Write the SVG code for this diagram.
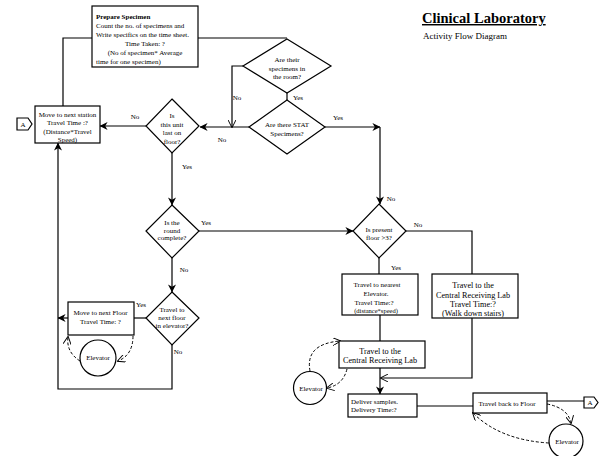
<svg xmlns="http://www.w3.org/2000/svg" width="602" height="456" viewBox="0 0 602 456">
<style>
text{font-family:"Liberation Serif","Times New Roman",serif;fill:#000;font-size:7px}
.c{text-anchor:middle}
.box{fill:#fff;stroke:#000;stroke-width:1.2}
.ln{fill:none;stroke:#000;stroke-width:1.2}
.ds{fill:none;stroke:#000;stroke-width:1;stroke-dasharray:3,2}
.m{font-size:8.2px}
</style>
<defs>
<marker id="arr" viewBox="0 0 10 10" refX="9.5" refY="5" markerWidth="8" markerHeight="8" markerUnits="userSpaceOnUse" orient="auto"><path d="M0,0 L10,5 L0,10 L3,5 Z" fill="#000"/></marker>
<marker id="open" viewBox="0 0 10 10" refX="9" refY="5" markerWidth="8" markerHeight="8" markerUnits="userSpaceOnUse" orient="auto"><path d="M0,0 L10,5 L0,10" fill="none" stroke="#000" stroke-width="1.2"/></marker>
</defs>
<rect width="602" height="456" fill="#fff"/>

<g id="title">
<text x="422" y="23" style="font-size:14.5px;font-weight:bold;text-decoration:underline">Clinical Laboratory</text>
<text x="423" y="38.5" style="font-size:9px">Activity Flow Diagram</text>
</g>

<g id="connectors">
<path class="ln" d="M92,38 H63 V107"/>
<path class="ln" d="M198,38 H287"/>
<path class="ln" d="M243,66 H232 V127" marker-end="url(#open)"/>
<path class="ln" d="M287,93 V100"/>
<path class="ln" d="M249,127 H200" marker-end="url(#arr)"/>
<path class="ln" d="M325,127 H380" marker-end="url(#arr)"/>
<path class="ln" d="M380,127 V204" marker-end="url(#arr)"/>
<path class="ln" d="M146,126 H100" marker-end="url(#arr)"/>
<path class="ln" d="M172,153 V205" marker-end="url(#arr)"/>
<path class="ln" d="M199,231 H353" marker-end="url(#arr)"/>
<path class="ln" d="M172,258 V292" marker-end="url(#arr)"/>
<path class="ln" d="M146,318 H134"/>
<path class="ln" d="M68,318 H58" marker-end="url(#arr)"/>
<path class="ln" d="M172,345 V389 H58 V143" marker-end="url(#arr)"/>
<path class="ln" d="M406,231 H472 V274"/>
<path class="ln" d="M379,258 V274"/>
<path class="ln" d="M380,315 V341"/>
<path class="ln" d="M380,368 V394" marker-end="url(#arr)"/>
<path class="ln" d="M472,318 V378 H381" marker-end="url(#open)"/>
<path class="ln" d="M417,406 H473"/>
<path class="ln" d="M547,401 H584"/>
<path class="ds" d="M133,336 Q133,355 118,361" marker-end="url(#open)"/>
<path class="ds" d="M80,361 Q66,352 68,337" marker-end="url(#open)"/>
<path class="ds" d="M310,371 Q305,344 340,341" marker-end="url(#open)"/>
<path class="ds" d="M347,369 Q343,385 327,388" marker-end="url(#open)"/>
<path class="ds" d="M547,404 Q568,408 571,423" marker-end="url(#open)"/>
<path class="ds" d="M549,443 Q500,440 473,413" marker-end="url(#open)"/>
</g>

<g id="prepare">
<rect class="box" x="92" y="6" width="106" height="61"/>
<text x="96" y="18.5" style="font-weight:bold">Prepare Specimen</text>
<text x="96" y="27.5">Count the no. of specimens and</text>
<text x="96" y="36.5">Write specifics on the time sheet.</text>
<text x="145" y="45.5" class="c">Time Taken: ?</text>
<text x="145" y="54.5" class="c">(No of specimen* Average</text>
<text x="96" y="63.5">time for one specimen)</text>
</g>

<g id="d-room">
<polygon class="box" points="287,39 331,66 287,93 243,66"/>
<text x="287" y="61.5" class="c">Are their</text>
<text x="287" y="70.5" class="c">specimens in</text>
<text x="287" y="79" class="c">the room?</text>
<text x="237" y="99.5" class="c">No</text>
<text x="298" y="99.5" class="c">Yes</text>
</g>

<g id="d-stat">
<polygon class="box" points="287,100 325,127 287,154 249,127"/>
<text x="287" y="126.5" class="c">Are there STAT</text>
<text x="287" y="135.5" class="c">Specimens?</text>
<text x="222" y="141.5" class="c">No</text>
<text x="338" y="119.5" class="c">Yes</text>
<text x="391" y="200.5" class="c">No</text>
</g>

<g id="station">
<rect class="box" x="35" y="106" width="65" height="37"/>
<text x="67.5" y="116.5" class="c">Move to next station</text>
<text x="67.5" y="124.5" class="c">Travel Time :?</text>
<text x="67.5" y="133.5" class="c">(Distance*Travel</text>
<text x="67.5" y="141.5" class="c">Speed)</text>
</g>

<g id="conn-a1">
<polygon class="box" points="17,118 28,118 32,124 28,130 17,130"/>
<text x="23" y="127" class="c">A</text>
</g>

<g id="d-last">
<polygon class="box" points="172,99 199,126 172,153 146,126"/>
<text x="172" y="117.5" class="c">Is</text>
<text x="172" y="126.5" class="c">this unit</text>
<text x="172" y="134.5" class="c">last on</text>
<text x="172" y="143.5" class="c">floor?</text>
<text x="135" y="118.5" class="c">No</text>
<text x="187" y="168.5" class="c">Yes</text>
</g>

<g id="d-round">
<polygon class="box" points="172,205 199,231 172,258 146,231"/>
<text x="172" y="224.5" class="c">Is the</text>
<text x="172" y="232.5" class="c">round</text>
<text x="172" y="239.5" class="c">complete?</text>
<text x="206" y="225" class="c">Yes</text>
<text x="184" y="272" class="c">No</text>
</g>

<g id="d-floor">
<polygon class="box" points="379,204 406,231 379,258 353,231"/>
<text x="379" y="232" class="c">Is present</text>
<text x="379" y="239.5" class="c">floor &gt;3?</text>
<text x="418" y="226.5" class="c">No</text>
<text x="396" y="270" class="c">Yes</text>
</g>

<g id="d-elev">
<polygon class="box" points="172,292 199,318 172,345 146,318"/>
<text x="172" y="311.5" class="c">Travel to</text>
<text x="172" y="319.5" class="c">next floor</text>
<text x="172" y="328" class="c">in elevator?</text>
<text x="141" y="306.5" class="c">Yes</text>
<text x="178" y="353.5" class="c">No</text>
</g>

<g id="next-floor">
<rect class="box" x="68" y="302" width="66" height="33"/>
<text x="100.5" y="314.5" class="c">Move to next Floor</text>
<text x="100.5" y="323.5" class="c">Travel Time: ?</text>
</g>

<g id="elev1">
<circle class="box" cx="98" cy="358" r="18"/>
<text x="98" y="360" class="c">Elevator</text>
</g>

<g id="nearest">
<rect class="box" x="342" y="274" width="76" height="41"/>
<text x="377" y="286.5" class="c">Travel to nearest</text>
<text x="376" y="295.5" class="c">Elevator.</text>
<text x="374" y="304.5" class="c">Travel Time:?</text>
<text x="376" y="312.5" class="c" style="font-size:6.5px">(distance*speed)</text>
</g>

<g id="stairs">
<rect class="box" x="432" y="274" width="86" height="44"/>
<text x="473" y="287.5" class="c m">Travel to the</text>
<text x="473" y="297.5" class="c m">Central Receiving Lab</text>
<text x="473" y="306.5" class="c m">Travel Time:?</text>
<text x="473" y="316" class="c m">(Walk down stairs)</text>
</g>

<g id="crl">
<rect class="box" x="339" y="341" width="86" height="27"/>
<text x="380" y="353.5" class="c m">Travel to the</text>
<text x="380" y="363" class="c m">Central Receiving Lab</text>
</g>

<g id="elev2">
<circle class="box" cx="310" cy="388" r="16.5"/>
<text x="311" y="391" class="c">Elevator</text>
</g>

<g id="deliver">
<rect class="box" x="348" y="394" width="69" height="23"/>
<text x="351" y="403.5">Deliver samples.</text>
<text x="351" y="411.5">Delivery Time:?</text>
</g>

<g id="back">
<rect class="box" x="473" y="393" width="74" height="20"/>
<text x="507" y="405.5" class="c">Travel back to Floor</text>
</g>

<g id="conn-a2">
<polygon class="box" points="584,397 594,397 598,402.5 594,408 584,408"/>
<text x="590" y="405" class="c">A</text>
</g>

<g id="elev3">
<circle class="box" cx="566" cy="441" r="17"/>
<text x="567" y="444" class="c">Elevator</text>
</g>
</svg>
